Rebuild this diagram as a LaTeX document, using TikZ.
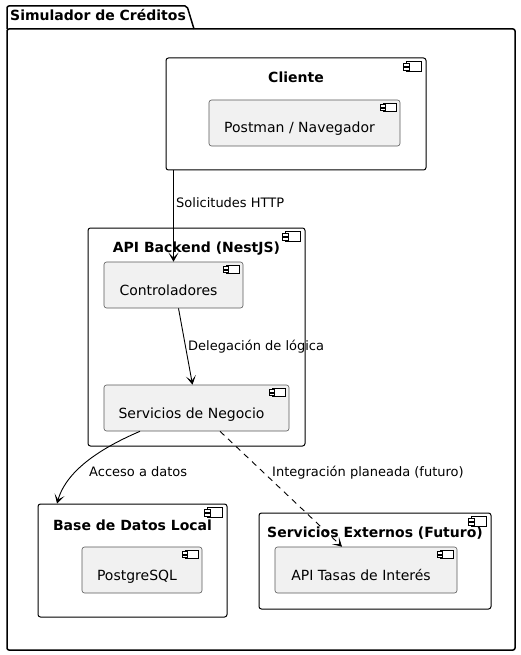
\documentclass[tikz,border=0pt]{standalone}
\usepackage{fontspec}
\setmainfont{DejaVu Sans}
\usetikzlibrary{arrows.meta}

\definecolor{compfill}{HTML}{F1F1F1}

% component icon at the north east corner of a node
\newcommand{\compicon}[2]{%
  \begin{scope}[shift={(#1.north east)},scale=#2]
    \draw [black,line width=0.8pt,fill=white] (-20,4) rectangle (-5,14);
    \draw [black,line width=0.8pt,fill=white] (-23,6) rectangle (-17,8.5);
    \draw [black,line width=0.8pt,fill=white] (-23,10) rectangle (-17,12.5);
  \end{scope}}

\begin{document}
\begin{tikzpicture}[x=1pt,y=-1pt,
  outerbox/.style={draw=black,line width=1pt,fill=white,rounded corners=2.5pt,inner sep=0pt},
  innerbox/.style={draw=black!65,line width=0.6pt,fill=compfill,rounded corners=2.5pt,inner sep=0pt},
  boxtitle/.style={font=\fontsize{14}{16}\selectfont\bfseries,anchor=base,inner sep=0pt},
  comptext/.style={font=\fontsize{14}{16}\selectfont,anchor=base,inner sep=0pt},
  edgetext/.style={font=\fontsize{13}{15}\selectfont,anchor=base west,inner sep=0pt},
  arr/.style={-{Stealth[length=9pt,width=10pt,inset=5pt]},black,line width=0.9pt}]
\useasboundingbox (0,0) rectangle (521,655);

% package
\draw [black,line width=1.5pt,rounded corners=2pt] (7,29) -- (7,6) -- (187,6) -- (194,29);
\draw [black,line width=1.5pt,rounded corners=2pt] (7,29) -- (7,650) -- (515,650) -- (515,29) -- cycle;
\node [font=\fontsize{14}{16}\selectfont\bfseries,anchor=base west,inner sep=0pt] (pkgtitle) at (10,21) {Simulador de Créditos};

% Cliente
\node [outerbox,minimum width=260,minimum height=112] (cliente) at (296,114) {};
\node [boxtitle] (clientetitle) at ([yshift=-25]cliente.north) {Cliente};
\compicon{cliente}{1}
\node [innerbox,minimum width=191,minimum height=46] (postman) at (304.5,123) {};
\node [comptext] (postmantext) at ([shift={(-5,10)}]postman.center) {Postman / Navegador};
\compicon{postman}{0.85}

% API Backend
\node [outerbox,minimum width=217,minimum height=218] (backend) at (196.5,337) {};
\node [boxtitle] (backendtitle) at ([yshift=-25]backend.north) {API Backend (NestJS)};
\compicon{backend}{1}
\node [innerbox,minimum width=139,minimum height=46] (ctrl) at (173.5,285) {};
\node [comptext] (ctrltext) at ([shift={(-5,10)}]ctrl.center) {Controladores};
\compicon{ctrl}{0.85}
\node [innerbox,minimum width=185,minimum height=46] (serv) at (196.5,408) {};
\node [comptext] (servtext) at ([shift={(-5,10)}]serv.center) {Servicios de Negocio};
\compicon{serv}{0.85}

% Base de Datos Local
\node [outerbox,minimum width=189,minimum height=113] (bd) at (132.5,560.5) {};
\node [boxtitle] (bdtitle) at ([yshift=-27]bd.north) {Base de Datos Local};
\compicon{bd}{1}
\node [innerbox,minimum width=120,minimum height=46] (pg) at (142,570) {};
\node [comptext] (pgtext) at ([shift={(-5,10)}]pg.center) {PostgreSQL};
\compicon{pg}{0.85}

% Servicios Externos
\node [outerbox,minimum width=232,minimum height=96] (ext) at (375,561) {};
\node [boxtitle] (exttitle) at ([yshift=-25]ext.north) {Servicios Externos (Futuro)};
\compicon{ext}{1}
\node [innerbox,minimum width=182,minimum height=46] (tasas) at (366,570) {};
\node [comptext] (tasastext) at ([shift={(-5,10)}]tasas.center) {API Tasas de Interés};
\compicon{tasas}{0.85}

% connectors
\draw [arr] (ctrl.north |- cliente.south) -- (ctrl.north);
\node [edgetext] (lblhttp) at (176,207) {Solicitudes HTTP};
\draw [arr] ([xshift=5]ctrl.south) -- ([xshift=-4]serv.north);
\node [edgetext] (lbldeleg) at (188,350) {Delegación de lógica};
\draw [arr] ([xshift=-56.5]serv.south) .. controls +(-35,15) and +(10,-35) .. ([xshift=-75.5]bd.north);
\node [edgetext] (lbldatos) at (89,476) {Acceso a datos};
\draw [arr,dash pattern=on 6pt off 5pt] ([xshift=23.5]serv.south) -- ([xshift=-24]tasas.north);
\node [edgetext] (lblfuturo) at (272,476) {Integración planeada (futuro)};
\end{tikzpicture}
\end{document}
